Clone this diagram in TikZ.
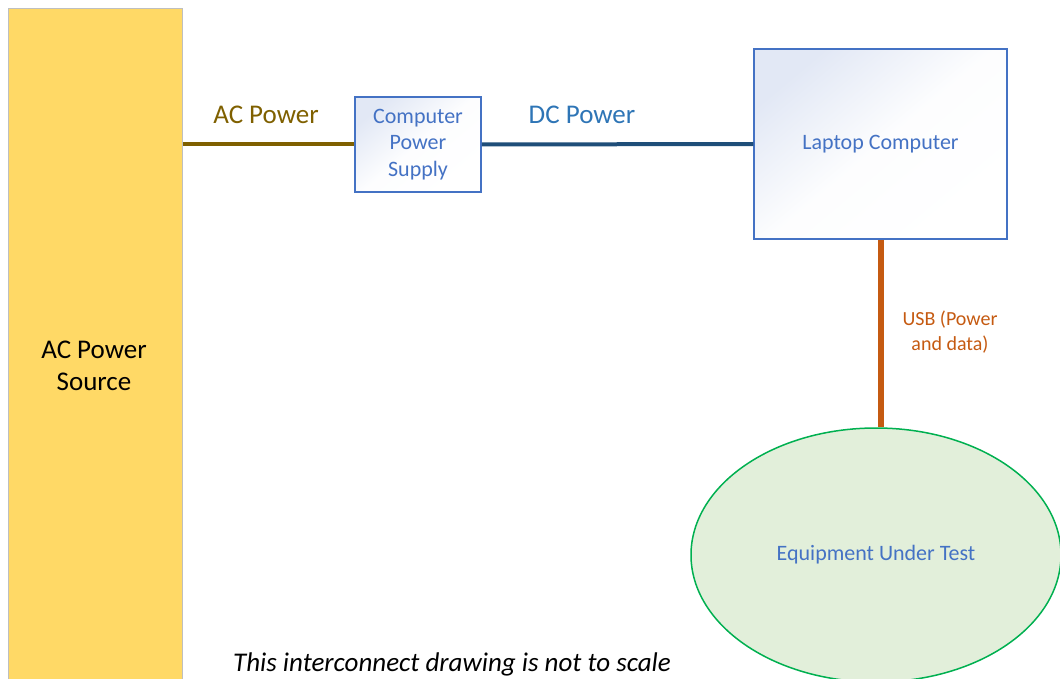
\documentclass[tikz,border=0pt]{standalone}
\usepackage{fontspec}
\setmainfont{Carlito}
\usetikzlibrary{shapes.geometric}

\definecolor{srcfill}{RGB}{255,217,102}
\definecolor{acbrown}{RGB}{127,96,0}
\definecolor{dcblue}{RGB}{31,78,121}
\definecolor{dclabel}{RGB}{46,117,182}
\definecolor{usborange}{RGB}{197,90,17}
\definecolor{boxblue}{RGB}{68,114,196}
\definecolor{boxtint}{RGB}{226,232,245}
\definecolor{eutfill}{RGB}{226,239,218}
\definecolor{eutgreen}{RGB}{0,176,80}

\tikzset{
  unitbox/.style={draw=boxblue, line width=1.5pt, shading=axis, top color=boxtint, bottom color=white,
    middle color=white!92!boxtint, shading angle=40, text=boxblue, align=center, inner sep=0pt},
  cable/.style={line width=4pt},
}

\begin{document}
\begin{tikzpicture}[x=1pt,y=1pt,yscale=-1,xscale=1]
\useasboundingbox (0,0) rectangle (1060,679);
\clip (0,0) rectangle (1060,679);

%Shape: Rectangle [AC source]
\node [draw={rgb,255:red,191;green,191;blue,191}, line width=0.75pt, fill=srcfill, minimum width=174pt, minimum height=700pt, inner sep=0pt, anchor=north west] (src) at (8,8) {};
\node [font=\fontsize{27}{32}\selectfont, align=center] (srclbl) at (94,366) {AC Power\\Source};

%Shape: Rectangle [power supply]
\node [unitbox, minimum width=126pt, minimum height=95pt, font=\fontsize{22}{26.5}\selectfont] (supply) at (418,144.5) {Computer\\Power\\Supply};
%Shape: Rectangle [laptop]
\node [unitbox, minimum width=253pt, minimum height=190pt, font=\fontsize{22}{26.5}\selectfont] (laptop) at (880.5,144) {Laptop Computer};
%Shape: Ellipse [EUT]
\node [ellipse, draw=eutgreen, line width=1.5pt, fill=eutfill, minimum width=370pt, minimum height=254pt, inner sep=0pt, text=boxblue, font=\fontsize{22}{26.5}\selectfont] (eut) at (876,555) {Equipment Under Test};

%Straight Lines
\draw [cable, acbrown] (src.east |- supply.west) -- (supply.west);
\draw [cable, dcblue] (supply.east) -- (laptop.west);
\draw [cable, usborange, line width=6pt] (laptop.south) -- (laptop.south |- eut.north);

% Text Node
\node [text=acbrown, font=\fontsize{27}{32}\selectfont] (aclbl) at (266,115) {AC Power};
% Text Node
\node [text=dclabel, font=\fontsize{27}{32}\selectfont] (dclbl) at (582,115) {DC Power};
% Text Node
\node [text=usborange, font=\fontsize{20}{25}\selectfont, align=center] (usblbl) at (950,332) {USB (Power\\and data)};
% Text Node
\node [font=\fontsize{27}{32}\selectfont\itshape, anchor=base] (note) at (452,671) {This interconnect drawing is not to scale};

\end{tikzpicture}
\end{document}
